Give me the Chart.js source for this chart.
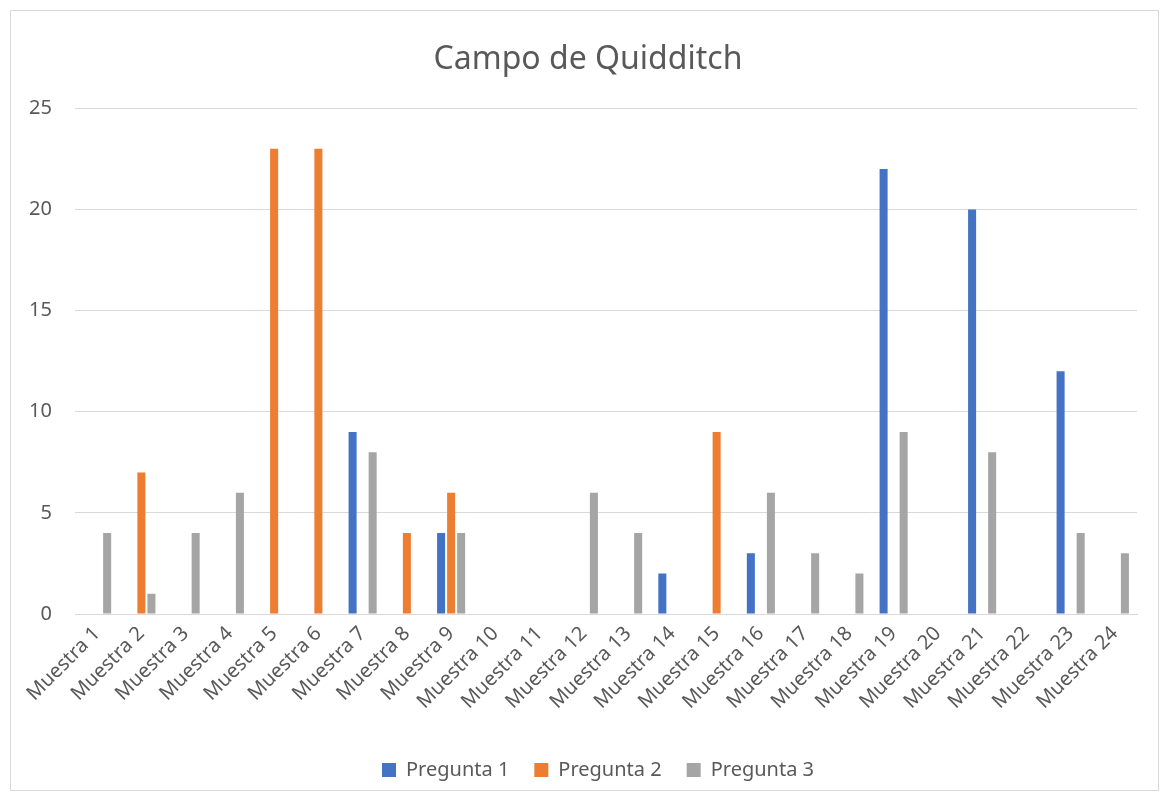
<!DOCTYPE html>
<html>
<head>
<meta charset="utf-8">
<script src="https://cdn.jsdelivr.net/npm/chart.js@4.4.1/dist/chart.umd.min.js"></script>
<style>
  html, body { margin: 0; padding: 0; background: #ffffff; }
  #wrap { position: absolute; left: 10px; top: 10px; width: 1149px; height: 781px; border: 1px solid #d9d9d9; box-sizing: border-box; }
  canvas { display: block; }
</style>
</head>
<body>
<div id="wrap"><canvas id="c" width="1147" height="779"></canvas></div>
<script>
const categories = ["Muestra 1","Muestra 2","Muestra 3","Muestra 4","Muestra 5","Muestra 6","Muestra 7","Muestra 8","Muestra 9","Muestra 10","Muestra 11","Muestra 12","Muestra 13","Muestra 14","Muestra 15","Muestra 16","Muestra 17","Muestra 18","Muestra 19","Muestra 20","Muestra 21","Muestra 22","Muestra 23","Muestra 24"];
const pregunta1 = [0,0,0,0,0,0,9,0,4,0,0,0,0,2,0,3,0,0,22,0,20,0,12,0];
const pregunta2 = [0,7,0,0,23,23,0,4,6,0,0,0,0,0,9,0,0,0,0,0,0,0,0,0];
const pregunta3 = [4,1,4,6,0,0,8,0,4,0,0,6,4,0,0,6,3,2,9,0,8,0,4,3];
const seriesNames = ["Pregunta 1","Pregunta 2","Pregunta 3"];
const yTicks = [0,5,10,15,20,25];

const FONT = "'Noto Sans', 'Open Sans', sans-serif";
const TXT = "#595959";

const boxShift = {
  id: 'boxShift',
  afterLayout(chart) {
    if (chart.legend) { chart.legend.left += 24; chart.legend.right += 24; }
    if (chart.titleBlock) { chart.titleBlock.left += 14; chart.titleBlock.right += 14; }
  }
};

new Chart(document.getElementById('c'), {
  type: 'bar',
  data: {
    labels: categories,
    datasets: [
      { label: seriesNames[0], data: pregunta1, backgroundColor: '#4472C4' },
      { label: seriesNames[1], data: pregunta2, backgroundColor: '#ED7D31' },
      { label: seriesNames[2], data: pregunta3, backgroundColor: '#A5A5A5' }
    ]
  },
  plugins: [boxShift],
  options: {
    responsive: false,
    animation: false,
    datasets: { bar: { barPercentage: 0.8, categoryPercentage: 0.68 } },
    layout: { padding: { left: 0, right: 21, top: 0, bottom: 0 } },
    plugins: {
      title: {
        display: true,
        text: 'Campo de Quidditch',
        color: TXT,
        font: { family: FONT, size: 32, weight: 'normal' },
        padding: { top: 30, bottom: 29 }
      },
      legend: {
        position: 'bottom',
        labels: {
          color: TXT,
          font: { family: FONT, size: 20 },
          boxWidth: 14,
          boxHeight: 14,
          padding: 25
        }
      },
      tooltip: { enabled: false }
    },
    scales: {
      x: {
        grid: { display: false, drawTicks: false },
        border: { display: true, color: '#d9d9d9' },
        ticks: {
          color: TXT,
          font: { family: FONT, size: 20 },
          maxRotation: 45,
          minRotation: 45,
          autoSkip: false,
          padding: 8
        },
        afterFit: (s) => { s.height = 121; }
      },
      y: {
        min: 0,
        max: 25,
        afterBuildTicks: (s) => { s.ticks = yTicks.map(v => ({ value: v })); },
        grid: { color: '#d9d9d9', drawTicks: false },
        border: { display: false },
        ticks: {
          color: TXT,
          font: { family: FONT, size: 20 },
          padding: 23
        },
        afterFit: (s) => { s.width = 64; }
      }
    }
  }
});
</script>
</body>
</html>
